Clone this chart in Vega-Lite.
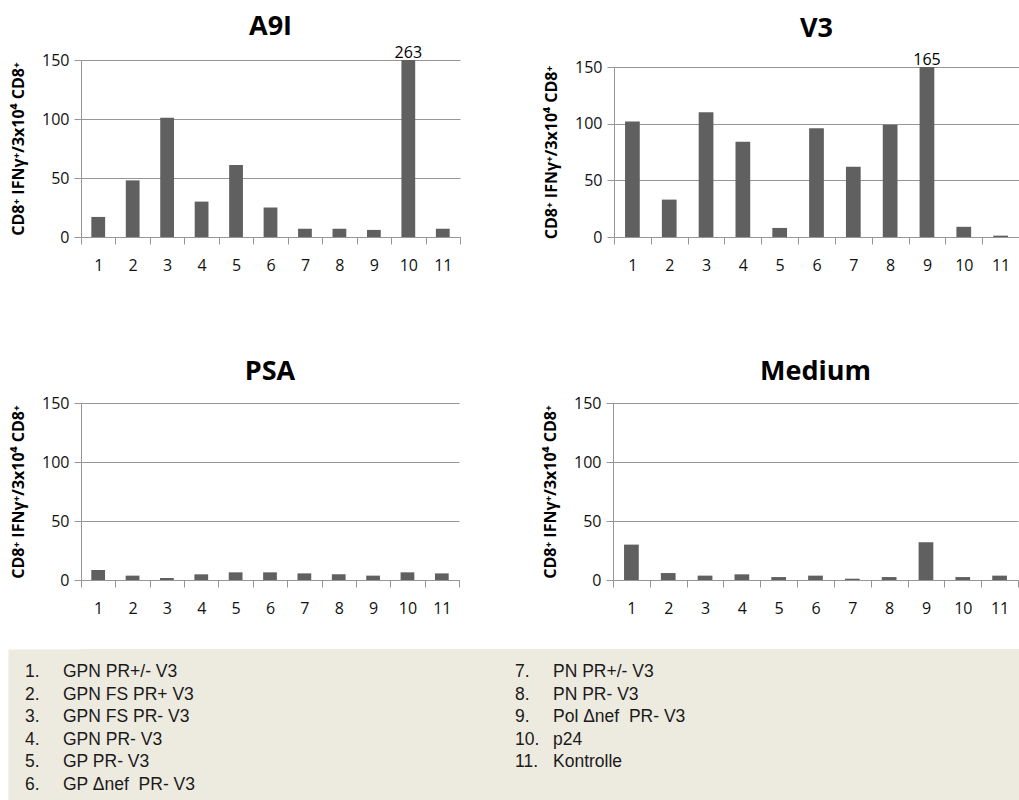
{
  "$schema": "https://vega.github.io/schema/vega-lite/v6.json",
  "background": "white",
  "padding": {"left": 10, "top": 13, "right": 0, "bottom": 0},
  "config": {
    "view": {"stroke": null},
    "axis": {"labelFont": "Open Sans", "labelFontSize": 16, "labelColor": "#111", "domainColor": "#969696", "tickColor": "#969696", "gridColor": "#969696", "tickSize": 7},
    "axisY": {"titleFont": "Open Sans", "titleFontSize": 16, "titleFontWeight": "bold", "titleColor": "#000", "titlePadding": 15, "labelPadding": 5},
    "axisX": {"labelAngle": 0, "tickBand": "extent", "labelPadding": 13, "grid": false},
    "title": {"font": "Open Sans", "fontSize": 27, "fontWeight": "bold", "color": "#000", "anchor": "middle"}
  },
  "datasets": {
    "bars": [
      {"panel": "A9I", "n": 1, "value": 17}, {"panel": "A9I", "n": 2, "value": 48}, {"panel": "A9I", "n": 3, "value": 101}, {"panel": "A9I", "n": 4, "value": 30}, {"panel": "A9I", "n": 5, "value": 61}, {"panel": "A9I", "n": 6, "value": 25}, {"panel": "A9I", "n": 7, "value": 7}, {"panel": "A9I", "n": 8, "value": 7}, {"panel": "A9I", "n": 9, "value": 6}, {"panel": "A9I", "n": 10, "value": 263}, {"panel": "A9I", "n": 11, "value": 7},
      {"panel": "V3", "n": 1, "value": 102}, {"panel": "V3", "n": 2, "value": 33}, {"panel": "V3", "n": 3, "value": 110}, {"panel": "V3", "n": 4, "value": 84}, {"panel": "V3", "n": 5, "value": 8}, {"panel": "V3", "n": 6, "value": 96}, {"panel": "V3", "n": 7, "value": 62}, {"panel": "V3", "n": 8, "value": 99}, {"panel": "V3", "n": 9, "value": 165}, {"panel": "V3", "n": 10, "value": 9}, {"panel": "V3", "n": 11, "value": 1.2},
      {"panel": "PSA", "n": 1, "value": 8.5}, {"panel": "PSA", "n": 2, "value": 3.7}, {"panel": "PSA", "n": 3, "value": 1.7}, {"panel": "PSA", "n": 4, "value": 4.8}, {"panel": "PSA", "n": 5, "value": 6.5}, {"panel": "PSA", "n": 6, "value": 6.5}, {"panel": "PSA", "n": 7, "value": 5.6}, {"panel": "PSA", "n": 8, "value": 4.8}, {"panel": "PSA", "n": 9, "value": 3.7}, {"panel": "PSA", "n": 10, "value": 6.5}, {"panel": "PSA", "n": 11, "value": 5.6},
      {"panel": "Medium", "n": 1, "value": 30}, {"panel": "Medium", "n": 2, "value": 5.9}, {"panel": "Medium", "n": 3, "value": 3.7}, {"panel": "Medium", "n": 4, "value": 4.8}, {"panel": "Medium", "n": 5, "value": 2.5}, {"panel": "Medium", "n": 6, "value": 3.7}, {"panel": "Medium", "n": 7, "value": 1.1}, {"panel": "Medium", "n": 8, "value": 2.5}, {"panel": "Medium", "n": 9, "value": 32}, {"panel": "Medium", "n": 10, "value": 2.5}, {"panel": "Medium", "n": 11, "value": 3.7}
    ],
    "legend": [
      {"n": 1, "label": "GPN PR+/- V3"}, {"n": 2, "label": "GPN FS PR+ V3"}, {"n": 3, "label": "GPN FS PR- V3"}, {"n": 4, "label": "GPN PR- V3"}, {"n": 5, "label": "GP PR- V3"}, {"n": 6, "label": "GP Δnef\u00a0 PR- V3"},
      {"n": 7, "label": "PN PR+/- V3"}, {"n": 8, "label": "PN PR- V3"}, {"n": 9, "label": "Pol Δnef\u00a0 PR- V3"}, {"n": 10, "label": "p24"}, {"n": 11, "label": "Kontrolle"}
    ]
  },
  "concat": [
    {
      "vconcat": [
        {
          "hconcat": [
            {
              "title": {"text": "A9I", "offset": 4},
              "width": 379, "height": 177,
              "data": {"name": "bars"},
              "transform": [{"filter": "datum.panel === 'A9I'"}],
              "encoding": {
                "x": {"field": "n", "type": "ordinal", "scale": {"paddingInner": 0, "paddingOuter": 0}, "axis": {"title": null}},
                "y": {"field": "value", "type": "quantitative", "scale": {"domain": [0, 150], "nice": false, "clamp": true}, "axis": {"values": [0, 50, 100, 150], "title": "CD8⁺ IFNγ⁺/3x10⁴ CD8⁺"}}
              },
              "layer": [
                {"mark": {"type": "bar", "color": "#606060", "width": {"band": 0.4}}},
                {"transform": [{"filter": "datum.value > 150"}], "mark": {"type": "text", "font": "Open Sans", "fontSize": 16, "baseline": "bottom", "dy": 1, "color": "#000"}, "encoding": {"text": {"field": "value"}}}
              ]
            },
            {
              "title": {"text": "V3", "offset": 9},
              "width": 405, "height": 177,
              "data": {"name": "bars"},
              "transform": [{"filter": "datum.panel === 'V3'"}],
              "encoding": {
                "x": {"field": "n", "type": "ordinal", "scale": {"paddingInner": 0, "paddingOuter": 0}, "axis": {"title": null}},
                "y": {"field": "value", "type": "quantitative", "scale": {"domain": [0, 150], "range": [177, 7], "nice": false, "clamp": true}, "axis": {"values": [0, 50, 100, 150], "title": "CD8⁺ IFNγ⁺/3x10⁴ CD8⁺"}}
              },
              "layer": [
                {"mark": {"type": "bar", "color": "#606060", "width": {"band": 0.4}}},
                {"transform": [{"filter": "datum.value > 150"}], "mark": {"type": "text", "font": "Open Sans", "fontSize": 16, "baseline": "bottom", "dy": 1, "color": "#000"}, "encoding": {"text": {"field": "value"}}}
              ]
            }
          ],
          "spacing": 82
        },
        {
          "hconcat": [
            {
              "title": {"text": "PSA", "offset": 9},
              "width": 378, "height": 177,
              "data": {"name": "bars"},
              "transform": [{"filter": "datum.panel === 'PSA'"}],
              "encoding": {
                "x": {"field": "n", "type": "ordinal", "scale": {"paddingInner": 0, "paddingOuter": 0}, "axis": {"title": null}},
                "y": {"field": "value", "type": "quantitative", "scale": {"domain": [0, 150], "nice": false, "clamp": true}, "axis": {"values": [0, 50, 100, 150], "title": "CD8⁺ IFNγ⁺/3x10⁴ CD8⁺"}}
              },
              "layer": [
                {"mark": {"type": "bar", "color": "#606060", "width": {"band": 0.4}}}
              ]
            },
            {
              "title": {"text": "Medium", "offset": 9},
              "width": 405, "height": 177,
              "data": {"name": "bars"},
              "transform": [{"filter": "datum.panel === 'Medium'"}],
              "encoding": {
                "x": {"field": "n", "type": "ordinal", "scale": {"paddingInner": 0, "paddingOuter": 0}, "axis": {"title": null}},
                "y": {"field": "value", "type": "quantitative", "scale": {"domain": [0, 150], "nice": false, "clamp": true}, "axis": {"values": [0, 50, 100, 150], "title": "CD8⁺ IFNγ⁺/3x10⁴ CD8⁺"}}
              },
              "layer": [
                {"mark": {"type": "bar", "color": "#606060", "width": {"band": 0.4}}}
              ]
            }
          ],
          "spacing": 82
        }
      ],
      "spacing": 85
    },
    {
      "width": 938, "height": 151,
      "view": {"fill": "#edeae0", "stroke": null},
      "data": {"name": "legend"},
      "transform": [
        {"calculate": "datum.n > 6 ? 1 : 0", "as": "col"},
        {"calculate": "datum.n > 6 ? datum.n - 6 : datum.n", "as": "row"},
        {"calculate": "datum.n + '.'", "as": "num"}
      ],
      "encoding": {
        "x": {"field": "col", "type": "quantitative", "scale": {"domain": [0, 1], "range": [-56, 434]}, "axis": null},
        "y": {"field": "row", "type": "quantitative", "scale": {"domain": [-0.018, 6.664], "reverse": true, "nice": false, "zero": false}, "axis": {"title": null, "labels": false, "ticks": false, "grid": false, "domainWidth": 146, "domainColor": "#edeae0"}}
      },
      "layer": [
        {"mark": {"type": "text", "align": "left", "baseline": "middle", "font": "Liberation Sans", "fontSize": 17.5, "color": "#1a1a1a"}, "encoding": {"text": {"field": "num"}}},
        {"mark": {"type": "text", "align": "left", "baseline": "middle", "font": "Liberation Sans", "fontSize": 17.5, "color": "#1a1a1a", "dx": 38}, "encoding": {"text": {"field": "label"}}}
      ]
    }
  ],
  "columns": 1,
  "spacing": 33,
  "align": "none"
}
